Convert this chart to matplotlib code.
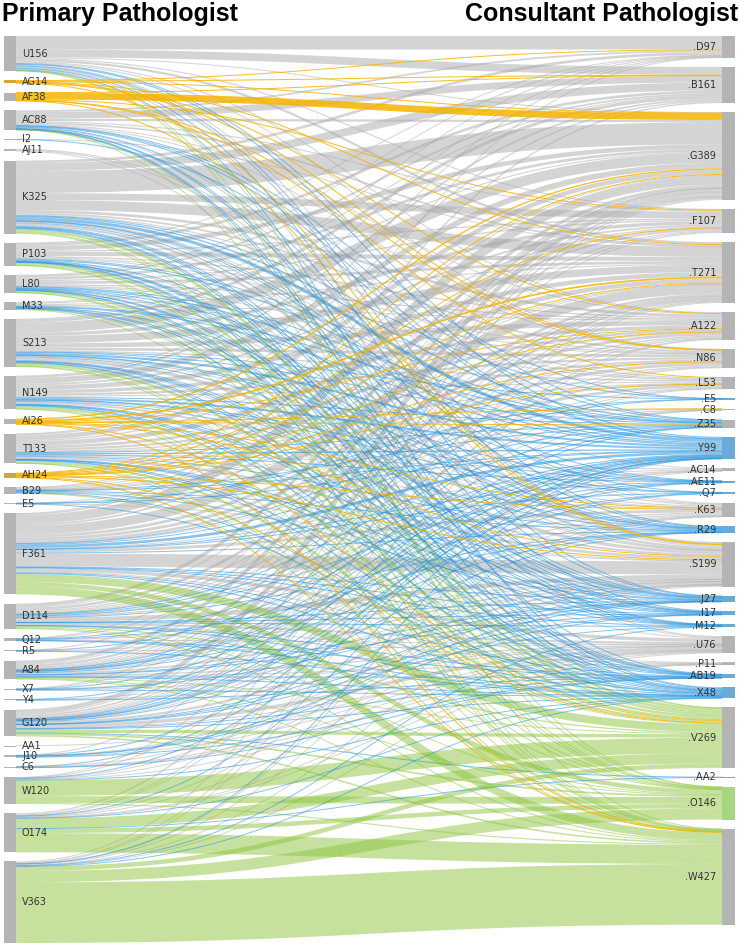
import matplotlib
matplotlib.use("Agg")
import matplotlib.pyplot as plt
from matplotlib.path import Path
from matplotlib.patches import PathPatch, Rectangle

# node order and sizes, top to bottom
left_names = ["U156", "AG14", "AF38", "AC88", "I2", "AJ11", "K325", "P103", "L80", "M33",
              "S213", "N149", "AI26", "T133", "AH24", "B29", "E5", "F361", "D114", "Q12",
              "R5", "A84", "X7", "Y4", "G120", "AA1", "J10", "C6", "W120", "O174", "V363"]
left_sizes = [156, 14, 38, 88, 2, 11, 325, 103, 80, 33, 213, 149, 26, 133, 24, 29, 5, 361,
              114, 12, 5, 84, 7, 4, 120, 1, 10, 6, 120, 174, 363]

right_names = ["D97", "B161", "G389", "F107", "T271", "A122", "N86", "L53", "E5", "C8",
               "Z35", "Y99", "AC14", "AE11", "Q7", "K63", "R29", "S199", "J27", "I17",
               "M12", "U76", "P11", "AB19", "X48", "V269", "AA2", "O146", "W427"]
right_sizes = [97, 161, 389, 107, 271, 122, 86, 53, 5, 8, 35, 99, 14, 11, 7, 63, 29, 199,
               27, 17, 12, 76, 11, 19, 48, 269, 2, 146, 427]

# flows: primary -> consultant (counts, estimated)
flows = {
    "U156": {"D97": 60, "B161": 35, "G389": 3, "F107": 5, "T271": 10, "A122": 5, "N86": 4,
             "K63": 4, "S199": 8, "U76": 5, "Y99": 5, "Z35": 2, "R29": 2, "X48": 3, "J27": 1,
             "V269": 2, "O146": 1, "W427": 1},
    "AG14": {"D97": 3, "B161": 3, "G389": 1, "T271": 2, "A122": 2, "N86": 1, "S199": 2},
    "AF38": {"B161": 1, "G389": 30, "F107": 2, "N86": 1, "L53": 2, "S199": 2},
    "AC88": {"D97": 8, "B161": 30, "G389": 10, "F107": 5, "T271": 8, "A122": 4, "N86": 3,
             "S199": 5, "Y99": 4, "Z35": 2, "E5": 1, "X48": 2, "R29": 1, "J27": 1, "I17": 1,
             "AB19": 1, "V269": 1, "O146": 1},
    "I2": {"T271": 1, "Y99": 1},
    "AJ11": {"S199": 5, "K63": 3, "U76": 3},
    "K325": {"D97": 12, "B161": 35, "G389": 98, "F107": 30, "T271": 45, "A122": 12, "N86": 8,
             "L53": 5, "AC14": 2, "K63": 5, "S199": 11, "E5": 1, "Z35": 6, "Y99": 14,
             "AE11": 2, "Q7": 1, "R29": 4, "J27": 4, "I17": 3, "M12": 2, "AB19": 2, "X48": 5,
             "V269": 12, "O146": 3, "W427": 3},
    "P103": {"D97": 3, "B161": 12, "G389": 20, "F107": 6, "T271": 18, "A122": 6, "N86": 3,
             "L53": 4, "S199": 2, "Z35": 2, "Y99": 5, "R29": 2, "J27": 1, "I17": 1, "M12": 1,
             "AB19": 1, "X48": 2, "V269": 10, "O146": 2, "W427": 2},
    "L80": {"D97": 2, "B161": 8, "G389": 12, "F107": 6, "T271": 12, "A122": 6, "N86": 3,
            "L53": 2, "S199": 2, "Z35": 2, "Y99": 6, "AE11": 1, "R29": 2, "J27": 2, "I17": 1,
            "AB19": 1, "X48": 2, "V269": 7, "O146": 1, "W427": 2},
    "M33": {"B161": 3, "G389": 5, "T271": 5, "A122": 3, "N86": 2, "S199": 2, "Z35": 1,
            "Y99": 3, "R29": 1, "J27": 1, "M12": 1, "X48": 2, "V269": 3, "W427": 1},
    "S213": {"D97": 3, "B161": 14, "G389": 45, "F107": 15, "T271": 32, "A122": 20, "N86": 12,
             "L53": 6, "K63": 5, "S199": 14, "U76": 3, "E5": 1, "Z35": 4, "Y99": 9, "AE11": 1,
             "Q7": 1, "R29": 3, "J27": 3, "I17": 2, "M12": 1, "AB19": 1, "X48": 3,
             "V269": 11, "O146": 2, "W427": 2},
    "N149": {"D97": 2, "B161": 8, "G389": 25, "F107": 8, "T271": 20, "A122": 15, "N86": 10,
             "L53": 5, "K63": 4, "S199": 9, "Z35": 4, "Y99": 9, "AE11": 1, "Q7": 1, "R29": 3,
             "J27": 3, "I17": 2, "M12": 1, "AB19": 2, "X48": 3, "V269": 10, "O146": 2,
             "W427": 2},
    "AI26": {"G389": 6, "T271": 8, "A122": 2, "C8": 1, "Z35": 1, "K63": 2, "S199": 3,
             "V269": 2, "W427": 1},
    "T133": {"D97": 2, "B161": 6, "G389": 20, "F107": 6, "T271": 20, "A122": 12, "N86": 10,
             "L53": 6, "C8": 1, "AC14": 2, "K63": 5, "S199": 11, "Z35": 3, "Y99": 6, "AE11": 1,
             "R29": 2, "J27": 2, "I17": 1, "M12": 1, "AB19": 1, "X48": 3, "V269": 10,
             "O146": 1, "W427": 1},
    "AH24": {"G389": 4, "F107": 2, "T271": 3, "A122": 2, "N86": 2, "L53": 1, "K63": 1,
             "S199": 5, "V269": 2, "W427": 2},
    "B29": {"G389": 3, "F107": 2, "T271": 4, "A122": 2, "N86": 2, "L53": 1, "S199": 4,
            "Z35": 1, "Y99": 2, "R29": 1, "J27": 1, "X48": 2, "V269": 4},
    "E5": {"T271": 1, "S199": 1, "E5": 1, "Y99": 1, "X48": 1},
    "F361": {"D97": 2, "B161": 6, "G389": 40, "F107": 8, "T271": 40, "A122": 13, "N86": 13,
             "L53": 12, "C8": 3, "AC14": 4, "K63": 13, "S199": 58, "U76": 15, "P11": 4,
             "E5": 1, "Z35": 4, "Y99": 12, "AE11": 2, "Q7": 2, "R29": 4, "J27": 3, "I17": 2,
             "M12": 2, "AB19": 3, "X48": 5, "V269": 35, "O146": 20, "W427": 35},
    "D114": {"G389": 15, "F107": 4, "T271": 12, "A122": 6, "N86": 5, "L53": 4, "C8": 1,
             "AC14": 3, "K63": 6, "S199": 20, "U76": 9, "P11": 2, "Z35": 1, "Y99": 4,
             "AE11": 1, "R29": 1, "J27": 1, "I17": 1, "M12": 1, "AB19": 1, "X48": 2,
             "V269": 6, "O146": 3, "W427": 5},
    "Q12": {"G389": 1, "T271": 1, "S199": 2, "U76": 2, "Y99": 2, "R29": 1, "AB19": 1, "X48": 2},
    "R5": {"G389": 1, "S199": 1, "U76": 1, "Y99": 1, "X48": 1},
    "A84": {"G389": 15, "F107": 4, "T271": 10, "A122": 4, "N86": 4, "L53": 3, "C8": 1,
            "AC14": 1, "K63": 5, "S199": 8, "U76": 6, "P11": 1, "Z35": 1, "Y99": 4, "AE11": 1,
            "Q7": 1, "R29": 1, "J27": 1, "I17": 1, "AB19": 1, "X48": 2, "V269": 4, "O146": 2,
            "W427": 3},
    "X7": {"G389": 1, "T271": 1, "S199": 1, "U76": 1, "Y99": 1, "J27": 1, "X48": 1},
    "Y4": {"S199": 1, "U76": 1, "Y99": 1, "AB19": 1},
    "G120": {"G389": 20, "F107": 4, "T271": 8, "A122": 4, "N86": 3, "L53": 2, "C8": 1,
             "AC14": 1, "K63": 4, "S199": 10, "U76": 15, "P11": 2, "Z35": 1, "Y99": 4,
             "AE11": 1, "Q7": 1, "R29": 1, "J27": 1, "I17": 1, "M12": 1, "AB19": 1, "X48": 3,
             "AA2": 1, "V269": 15, "O146": 8, "W427": 7},
    "AA1": {"U76": 1},
    "J10": {"G389": 1, "S199": 2, "U76": 3, "Y99": 1, "J27": 1, "I17": 1, "AB19": 1},
    "C6": {"S199": 1, "U76": 2, "P11": 1, "Y99": 1, "AB19": 1},
    "W120": {"G389": 3, "T271": 2, "K63": 2, "S199": 2, "U76": 3, "Y99": 1, "X48": 2,
             "V269": 70, "O146": 30, "W427": 5},
    "O174": {"G389": 6, "T271": 4, "A122": 2, "K63": 2, "S199": 3, "U76": 3, "P11": 1,
             "Y99": 1, "X48": 1, "AA2": 1, "V269": 45, "O146": 20, "W427": 85},
    "V363": {"G389": 4, "T271": 4, "A122": 2, "AC14": 1, "K63": 2, "S199": 4, "U76": 3,
             "Y99": 1, "X48": 1, "M12": 1, "V269": 20, "O146": 50, "W427": 270},
}

yellow_sources = ["AG14", "AF38", "AI26", "AH24"]
blue_targets = ["E5", "Z35", "Y99", "AE11", "Q7", "R29", "J27", "I17", "M12", "AB19", "X48", "AA2"]
green_targets = ["V269", "O146", "W427"]

link_colors = {"gray": "#ababab", "blue": "#2b95dc", "green": "#8cc43c", "yellow": "#f5b400"}
link_alpha = {"gray": 0.5, "blue": 0.55, "green": 0.5, "yellow": 0.85}

W, H = 740, 948
top, bottom, pad = 36, 943, 9.2
x_left0, x_left1 = 4, 16
x_right0, x_right1 = 722, 735

ky = (bottom - top - (len(left_names) - 1) * pad) / sum(left_sizes)


def stack(sizes):
    pos, y = [], top
    for s in sizes:
        pos.append((y, y + s * ky))
        y += s * ky + pad
    return pos


left_pos = dict(zip(left_names, stack(left_sizes)))
right_pos = dict(zip(right_names, stack(right_sizes)))
right_rank = {n: i for i, n in enumerate(right_names)}
left_rank = {n: i for i, n in enumerate(left_names)}

links = []
for s, tg in flows.items():
    for t, v in tg.items():
        if s in yellow_sources:
            c = "yellow"
        elif t in green_targets:
            c = "green"
        elif t in blue_targets:
            c = "blue"
        else:
            c = "gray"
        links.append({"s": s, "t": t, "v": v, "c": c})

# stack links inside nodes like d3-sankey does
for s in left_names:
    y = left_pos[s][0]
    for l in sorted([l for l in links if l["s"] == s], key=lambda l: right_rank[l["t"]]):
        l["y0"] = y + l["v"] * ky / 2
        y += l["v"] * ky
for t in right_names:
    y = right_pos[t][0]
    for l in sorted([l for l in links if l["t"] == t], key=lambda l: left_rank[l["s"]]):
        l["y1"] = y + l["v"] * ky / 2
        y += l["v"] * ky

fig = plt.figure(figsize=(W / 100, H / 100), dpi=100)
ax = fig.add_axes([0, 0, 1, 1])
ax.set_xlim(0, W)
ax.set_ylim(H, 0)
ax.axis("off")

xm = (x_left1 + x_right0) / 2
for group in ["gray", "green", "blue", "yellow"]:
    for l in links:
        if l["c"] != group:
            continue
        verts = [(x_left1, l["y0"]), (xm, l["y0"]), (xm, l["y1"]), (x_right0, l["y1"])]
        path = Path(verts, [Path.MOVETO, Path.CURVE4, Path.CURVE4, Path.CURVE4])
        ax.add_patch(PathPatch(path, fill=False, edgecolor=link_colors[group],
                               alpha=link_alpha[group], lw=max(l["v"] * ky, 1.0) * 0.72,
                               capstyle="butt"))

left_bar_colors = {"AG14": "#d4a530", "AH24": "#d4a530"}
right_bar_colors = {n: "#6aaad6" for n in ["Y99", "R29", "J27", "I17", "M12", "AB19", "X48",
                                           "E5", "AE11", "Q7", "AA2"]}
right_bar_colors["O146"] = "#a6d77e"

for n in left_names:
    y0, y1 = left_pos[n]
    ax.add_patch(Rectangle((x_left0, y0), x_left1 - x_left0, max(y1 - y0, 1.0),
                           color=left_bar_colors.get(n, "#b4b4b4"), lw=0))
    ax.text(22, (y0 + y1) / 2, n, fontsize=7, color="#333333", va="center", ha="left")
for n in right_names:
    y0, y1 = right_pos[n]
    ax.add_patch(Rectangle((x_right0, y0), x_right1 - x_right0, max(y1 - y0, 1.0),
                           color=right_bar_colors.get(n, "#b4b4b4"), lw=0))
    ax.text(716, (y0 + y1) / 2, "." + n, fontsize=7, color="#333333", va="center", ha="right")

ax.text(2, 20.5, "Primary Pathologist", fontsize=18, fontweight="bold",
        family="Liberation Sans", va="baseline", ha="left")
ax.text(738, 20.5, "Consultant Pathologist", fontsize=18, fontweight="bold",
        family="Liberation Sans", va="baseline", ha="right")

fig.savefig("out.png", dpi=100)
